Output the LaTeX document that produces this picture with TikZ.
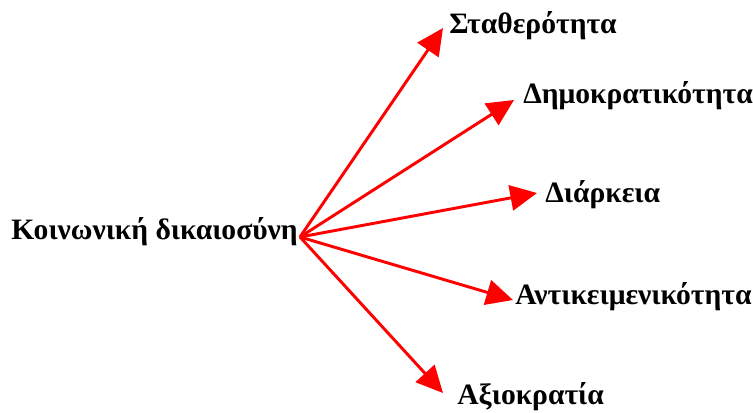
\documentclass[tikz,border=0pt]{standalone}
\usepackage{fontspec}
\setmainfont{Liberation Serif}
\usetikzlibrary{arrows.meta}
\begin{document}
\begin{tikzpicture}[x=0.75pt,y=-0.75pt,
  lbl/.style={font=\fontsize{22.2}{25}\selectfont\bfseries, inner sep=0pt},
  arr/.style={draw=red, line width=2.2pt, -{Triangle[length=20pt,width=19pt]}}]
\useasboundingbox (0,0) rectangle (753,412);
\node[lbl, anchor=east] (src) at (298,232) {Κοινωνική δικαιοσύνη};
\node[lbl, anchor=west] (t1) at (449,26) {Σταθερότητα};
\node[lbl, anchor=west] (t2) at (523,96) {Δημοκρατικότητα};
\node[lbl, anchor=west] (t3) at (545,195) {Διάρκεια};
\node[lbl, anchor=west] (t4) at (515,297) {Αντικειμενικότητα};
\node[lbl, anchor=west] (t5) at (457,397) {Αξιοκρατία};
\coordinate (o) at (300,237);
\coordinate (e1) at (443,28);
\coordinate (e2) at (514,100);
\coordinate (e3) at (537,193);
\coordinate (e4) at (513,300);
\coordinate (e5) at (443,393);
\draw[arr] (o) -- (e1);
\draw[arr] (o) -- (e2);
\draw[arr] (o) -- (e3);
\draw[arr] (o) -- (e4);
\draw[arr] (o) -- (e5);
\end{tikzpicture}
\end{document}
